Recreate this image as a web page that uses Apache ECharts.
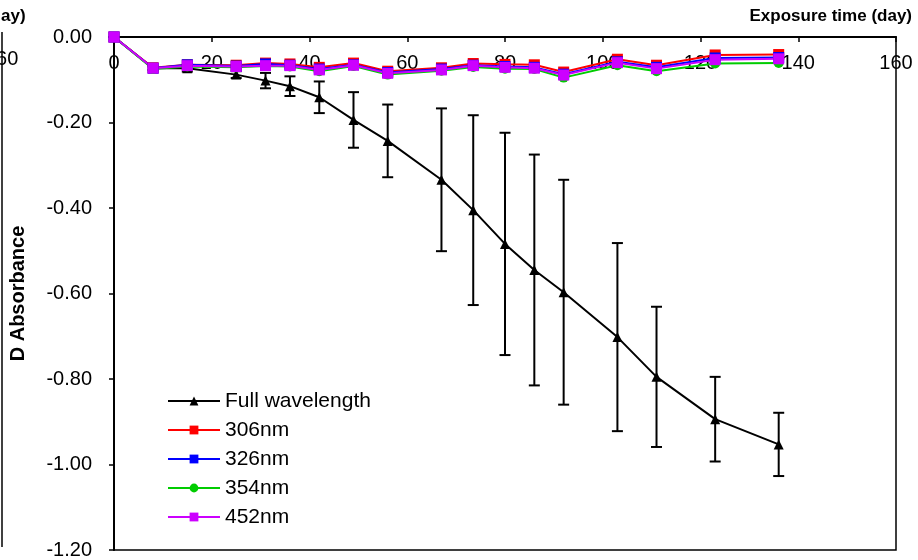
<!DOCTYPE html>
<html>
<head>
<meta charset="utf-8">
<script src="https://cdn.jsdelivr.net/npm/echarts@6/dist/echarts.min.js"></script>
<style>html,body{margin:0;padding:0;background:#fff}#c{width:918px;height:560px}</style>
</head>
<body>
<div id="c"></div>
<script>
const days = [0, 8, 15, 25, 31, 36, 42, 49, 56, 67, 73.5, 80, 86, 92, 103, 111, 123, 136];
const fullWave = [0, -0.073, -0.073, -0.088, -0.102, -0.115, -0.141, -0.194, -0.243, -0.334, -0.405, -0.484, -0.545, -0.597, -0.702, -0.795, -0.894, -0.953];
const fullErr = [0, 0.004, 0.008, 0.008, 0.018, 0.023, 0.037, 0.065, 0.085, 0.167, 0.222, 0.26, 0.27, 0.263, 0.22, 0.164, 0.099, 0.074];
const nm306 = [0, -0.072, -0.065, -0.066, -0.061, -0.063, -0.071, -0.061, -0.080, -0.072, -0.062, -0.064, -0.065, -0.082, -0.052, -0.066, -0.042, -0.041];
const nm326 = [0, -0.073, -0.065, -0.068, -0.063, -0.066, -0.075, -0.065, -0.083, -0.075, -0.066, -0.069, -0.071, -0.087, -0.058, -0.071, -0.049, -0.048];
const nm354 = [0, -0.075, -0.069, -0.071, -0.068, -0.069, -0.080, -0.068, -0.088, -0.079, -0.070, -0.074, -0.075, -0.095, -0.066, -0.080, -0.062, -0.061];
const nm452 = [0, -0.073, -0.067, -0.069, -0.067, -0.067, -0.077, -0.066, -0.085, -0.077, -0.067, -0.071, -0.073, -0.089, -0.060, -0.074, -0.053, -0.051];
const seriesNames = ['Full wavelength', '306nm', '326nm', '354nm', '452nm'];
const xTitle = 'Exposure time (day)';
const yTitle = 'D Absorbance';

const FONT = 'Liberation Sans, Arial, sans-serif';
const pair = arr => days.map((d, i) => [d, arr[i]]);
const errData = days.map((d, i) => [d, fullWave[i] - fullErr[i], fullWave[i] + fullErr[i]]);

const lineSeries = (name, data, color, symbol, size) => ({
  name, type: 'line', data: pair(data), symbol, symbolSize: size,
  lineStyle: { color, width: 2 }, itemStyle: { color, borderWidth: 0 },
  emphasis: { disabled: true }, z: 3
});

const chart = echarts.init(document.getElementById('c'), null, { renderer: 'canvas' });
chart.setOption({
  animation: false,
  backgroundColor: '#fff',
  textStyle: { fontFamily: FONT },
  grid: { left: 111, right: 22, top: 37, bottom: 5, show: true, borderColor: '#000', borderWidth: 1.5, backgroundColor: 'transparent' },
  xAxis: {
    type: 'value', position: 'top', min: 0, max: 160, interval: 20,
    axisLine: { onZero: false, lineStyle: { color: '#000', width: 2 } },
    axisTick: { inside: true, length: 5, lineStyle: { color: '#000', width: 1.5 } },
    axisLabel: { inside: true, margin: 16, color: '#000', fontSize: 20, fontFamily: FONT, showMinLabel: true, showMaxLabel: true },
    splitLine: { show: false }
  },
  yAxis: {
    type: 'value', min: -1.2, max: 0, interval: 0.2,
    axisLine: { lineStyle: { color: '#000', width: 2 } },
    axisTick: { length: 5, lineStyle: { color: '#000', width: 1.5 } },
    axisLabel: { margin: 22, color: '#000', fontSize: 20, fontFamily: FONT, formatter: v => v.toFixed(2) },
    splitLine: { show: false },
    name: yTitle, nameLocation: 'middle', nameGap: 86, nameRotate: 90,
    nameTextStyle: { color: '#000', fontWeight: 'bold', fontSize: 20, fontFamily: FONT }
  },
  legend: {
    data: seriesNames, orient: 'vertical', left: 167, top: 389, padding: 0,
    itemWidth: 52, itemHeight: 11, itemGap: 5,
    textStyle: { color: '#000', fontSize: 21, fontFamily: FONT, lineHeight: 24 },
    selectedMode: false
  },
  graphic: [
    { type: 'text', right: 6, top: 8, style: { text: xTitle, font: 'bold 17px ' + FONT, fill: '#000' } },
    { type: 'text', left: -15, top: 8, style: { text: '(day)', font: 'bold 17px ' + FONT, fill: '#000' } },
    { type: 'text', left: -15, top: 49, style: { text: '160', font: '20px ' + FONT, fill: '#000' } },
    { type: 'line', shape: { x1: 2, y1: 32, x2: 2, y2: 547 }, style: { stroke: '#000', lineWidth: 1.5 } }
  ],
  series: [
    {
      type: 'custom', data: errData, z: 2, silent: true,
      encode: { x: 0, y: [1, 2] },
      renderItem: (params, api) => {
        const lo = api.coord([api.value(0), api.value(1)]);
        const hi = api.coord([api.value(0), api.value(2)]);
        const w = 5.5;
        const st = { stroke: '#000', lineWidth: 2 };
        return {
          type: 'group', children: [
            { type: 'line', shape: { x1: lo[0], y1: lo[1], x2: hi[0], y2: hi[1] }, style: st },
            { type: 'line', shape: { x1: lo[0] - w, y1: lo[1], x2: lo[0] + w, y2: lo[1] }, style: st },
            { type: 'line', shape: { x1: hi[0] - w, y1: hi[1], x2: hi[0] + w, y2: hi[1] }, style: st }
          ]
        };
      }
    },
    lineSeries(seriesNames[0], fullWave, '#000000', 'triangle', 10),
    lineSeries(seriesNames[1], nm306, '#ff0000', 'rect', 11),
    lineSeries(seriesNames[2], nm326, '#0000ff', 'rect', 11),
    lineSeries(seriesNames[3], nm354, '#00cc00', 'circle', 10),
    lineSeries(seriesNames[4], nm452, '#cc00ff', 'rect', 11)
  ]
});
</script>
</body>
</html>
